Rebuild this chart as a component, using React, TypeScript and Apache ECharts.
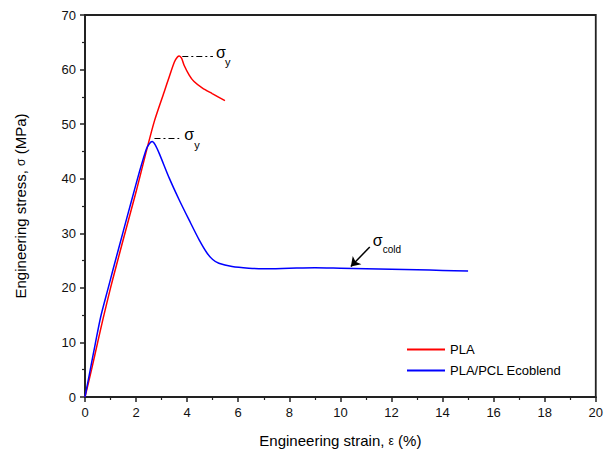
import React, { useEffect, useRef } from "react";
import * as echarts from "echarts";

const plaStrain = [0, 0.26, 0.5, 0.71, 1.0, 1.2, 1.5, 2.0, 2.4, 2.72, 3.1, 3.3, 3.5, 3.62, 3.69, 3.78, 3.88, 4.08, 4.27, 4.6, 4.98, 5.48];
const plaStress = [0, 5.1, 10.1, 14.4, 20.0, 23.6, 28.9, 37.6, 45.0, 50.6, 55.9, 58.7, 61.4, 62.3, 62.5, 62.1, 60.8, 59.0, 57.8, 56.6, 55.6, 54.3];

const blendStrain = [0, 0.19, 0.4, 0.62, 0.91, 1.1, 1.5, 1.8, 2.14, 2.4, 2.52, 2.63, 2.75, 2.91, 3.3, 3.69, 4.08, 4.47, 4.79, 5.0, 5.24, 5.76, 6.41, 7, 8, 9, 10, 11, 12, 13, 14, 15];
const blendStress = [0, 4.6, 9.7, 14.8, 20.0, 23.4, 30.4, 35.6, 41.4, 45.4, 46.4, 46.8, 46.2, 44.6, 40.1, 36.1, 32.4, 28.8, 26.3, 25.2, 24.5, 23.9, 23.6, 23.5, 23.6, 23.7, 23.6, 23.5, 23.4, 23.3, 23.2, 23.1];

const xTicks = { min: 0, max: 20, interval: 2 };
const yTicks = { min: 0, max: 70, interval: 10 };

const FONT = "'Liberation Sans', Arial, sans-serif";

export default function App() {
  const ref = useRef<HTMLDivElement>(null);
  useEffect(() => {
    const chart = echarts.init(ref.current!, null, { renderer: "svg" });
    const pla = plaStrain.map((x, i) => [x, plaStress[i]]);
    const blend = blendStrain.map((x, i) => [x, blendStress[i]]);
    const dashDot = { type: [6, 3, 2, 3] as any, color: "#000", width: 1.2 };
    const axisCol = "#222";
    chart.setOption({
      animation: false,
      backgroundColor: "#fff",
      grid: { left: 85, right: 6, top: 15, bottom: 62, show: true, borderColor: axisCol, borderWidth: 1.8 },
      legend: {
        orient: "vertical",
        left: 407,
        top: 343,
        padding: 0,
        icon: "rect",
        itemWidth: 38,
        itemHeight: 2,
        itemGap: 8,
        textStyle: { fontFamily: FONT, fontSize: 13, color: "#000" },
        data: ["PLA", "PLA/PCL Ecoblend"],
      },
      xAxis: {
        type: "value",
        ...xTicks,
        name: "Engineering strain, {g|ε} (%)",
        nameLocation: "middle",
        nameGap: 36,
        nameTextStyle: { fontFamily: FONT, fontSize: 15, color: "#000", rich: { g: { fontFamily: FONT, fontSize: 12, color: "#000" } } },
        axisLine: { lineStyle: { color: axisCol, width: 1.8 } },
        axisTick: { length: 5, lineStyle: { color: axisCol, width: 1.5 } },
        minorTick: { show: true, splitNumber: 2, length: 3, lineStyle: { color: axisCol, width: 1.2 } },
        splitLine: { show: false },
        axisLabel: { fontFamily: FONT, fontSize: 13, color: "#111", margin: 9 },
      },
      yAxis: {
        type: "value",
        ...yTicks,
        name: "Engineering stress, {g|σ} (MPa)",
        nameLocation: "middle",
        nameGap: 57,
        nameTextStyle: { fontFamily: FONT, fontSize: 15, color: "#000", rich: { g: { fontFamily: FONT, fontSize: 12, color: "#000" } } },
        axisLine: { lineStyle: { color: axisCol, width: 1.8 } },
        axisTick: { length: 5, lineStyle: { color: axisCol, width: 1.5 } },
        minorTick: { show: true, splitNumber: 2, length: 3, lineStyle: { color: axisCol, width: 1.2 } },
        splitLine: { show: false },
        axisLabel: { fontFamily: FONT, fontSize: 13, color: "#111", margin: 9 },
      },
      series: [
        {
          name: "PLA",
          type: "line",
          data: pla,
          showSymbol: false,
          smooth: 0.25,
          itemStyle: { color: "#ff0000" },
          lineStyle: { color: "#ff0000", width: 1.5 },
          z: 2,
          markLine: {
            silent: true,
            symbol: ["none", "none"],
            label: { show: false },
            lineStyle: dashDot,
            data: [[{ coord: [3.81, 62.5] }, { coord: [5.01, 62.5] }]],
          },
        },
        {
          name: "PLA/PCL Ecoblend",
          type: "line",
          data: blend,
          showSymbol: false,
          smooth: 0.25,
          itemStyle: { color: "#0000ff" },
          lineStyle: { color: "#0000ff", width: 1.5 },
          z: 3,
          markLine: {
            silent: true,
            label: { show: false },
            data: [
              [
                { coord: [2.72, 47.5], symbol: "none", lineStyle: dashDot },
                { coord: [3.69, 47.5], symbol: "none" },
              ],
              [
                { coord: [11.15, 27.5], symbol: "none", lineStyle: { type: "solid", color: "#000", width: 1.5 } },
                { coord: [10.41, 23.9], symbol: "arrow", symbolSize: 9 },
              ],
            ],
          },
        },
      ],
    });
    const p = (x: number, y: number) => chart.convertToPixel({ gridIndex: 0 }, [x, y]) as number[];
    const t = (pt: number[], dx: number, dy: number, text: string, size: number) => ({
      type: "text",
      x: pt[0] + dx,
      y: pt[1] + dy,
      style: { text, fontFamily: FONT, fontSize: size, fill: "#000", align: "left", verticalAlign: "middle" },
    });
    const a1 = p(5.01, 62.5);
    const a2 = p(3.69, 47.5);
    const a3 = p(11.15, 27.5);
    chart.setOption({
      graphic: [
        t(a1, 3, -3, "σ", 16),
        t(a1, 12, 6, "y", 11),
        t(a2, 5, -3, "σ", 16),
        t(a2, 15, 7, "y", 11),
        t(a3, 3, -6, "σ", 16),
        t(a3, 13, 3, "cold", 10),
      ],
    });
    return () => chart.dispose();
  }, []);
  return <div ref={ref} style={{ position: "fixed", left: 0, top: 0, width: 606, height: 459 }} />;
}
